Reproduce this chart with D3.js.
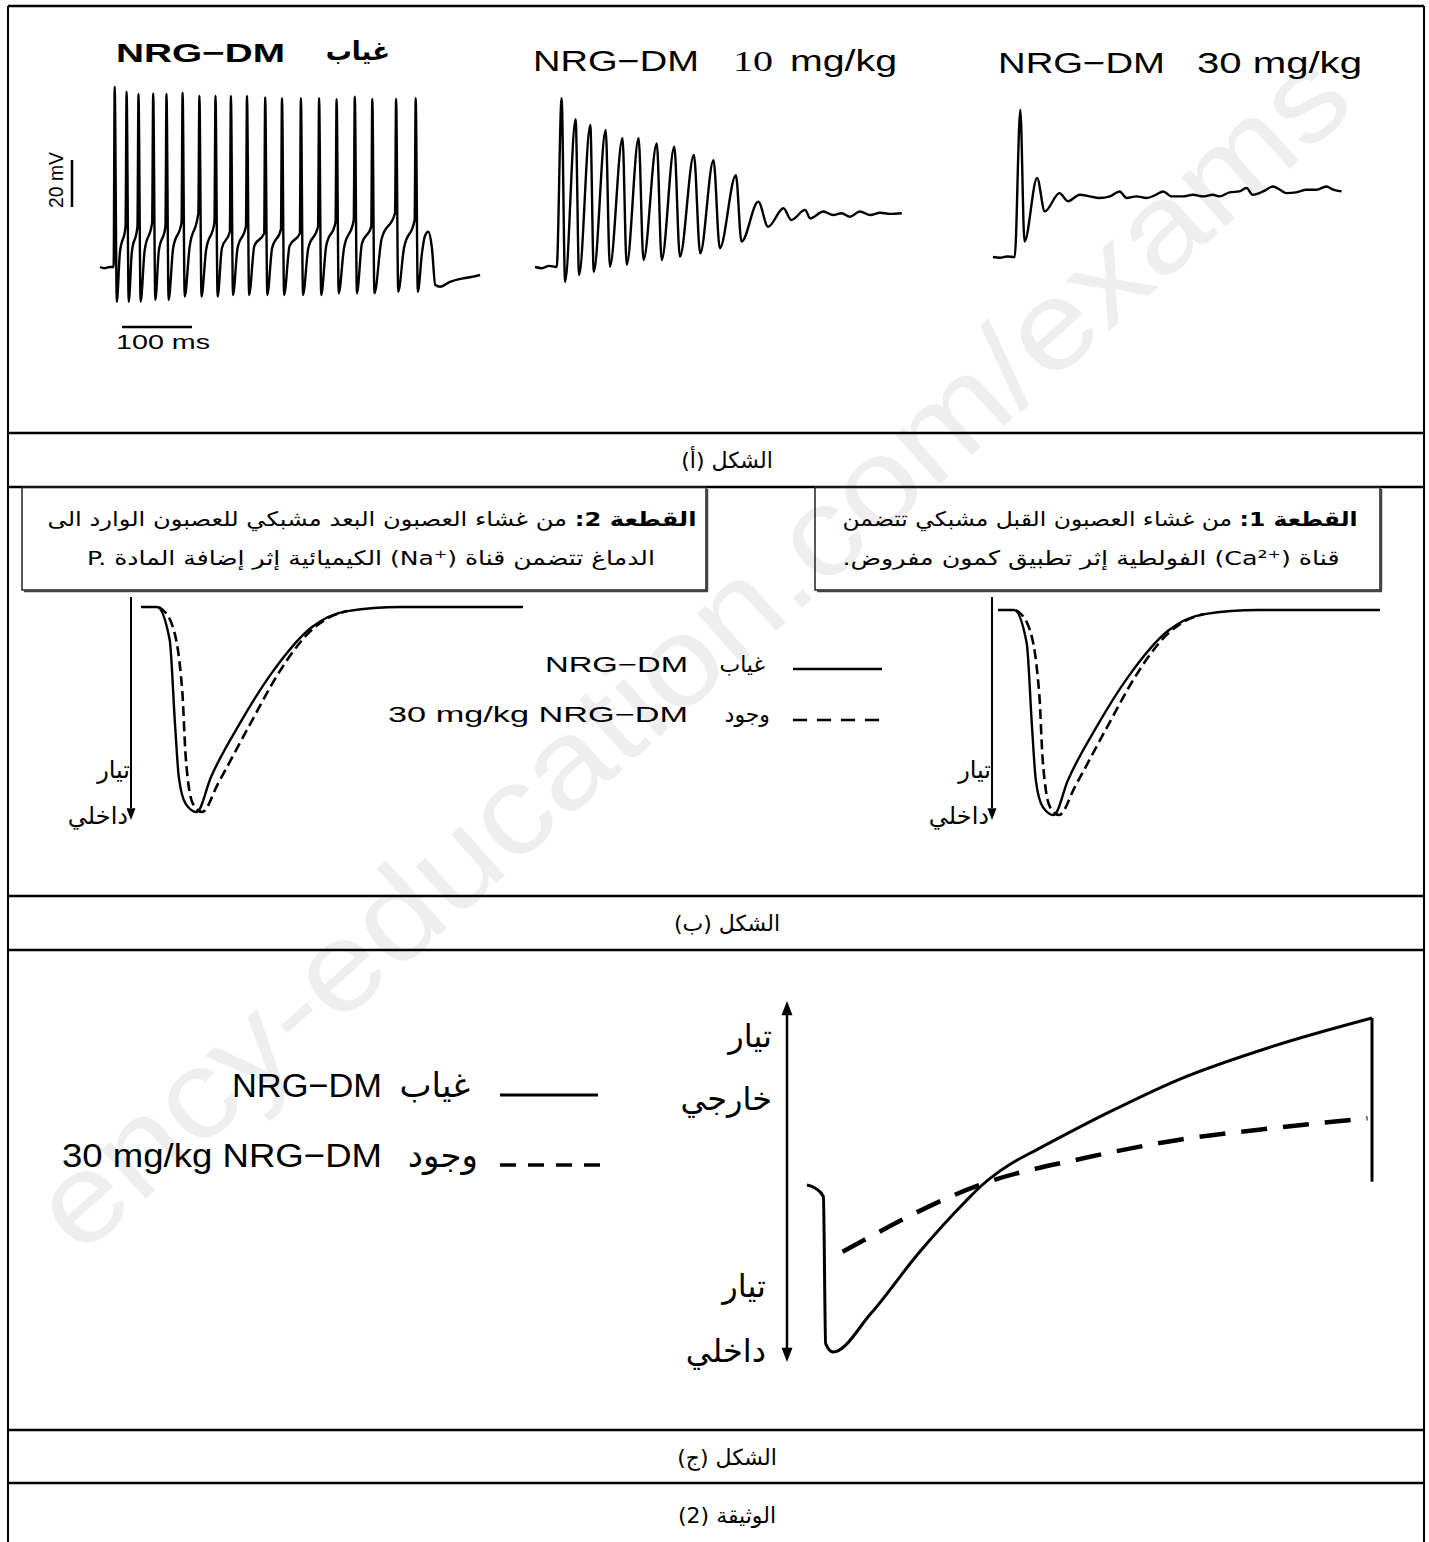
<!DOCTYPE html>
<html>
<head>
<meta charset="utf-8">
<script src="https://cdn.jsdelivr.net/npm/d3@7"></script>
<style>body{margin:0;background:#fff}</style>
</head>
<body>
<div id="chart"></div>
<script>
// ---------- data ----------
// figure A, trace 1 (no NRG-DM): time in ms, potential in mV
var ctrlStartT = [0, 6, 14];
var ctrlStartV = [-70, -70.5, -70];
var ctrlSpikeT = [21, 38, 55, 76, 95, 118, 142, 165, 187, 210, 236, 260, 287, 313, 338, 364, 389, 423, 451];
var ctrlPeak = [6.7, 4.6, 3.6, 3.9, 3.6, 4.2, 2.8, 2.8, 2.8, 2.8, 2.2, 1.8, 1.8, 1.8, 1.4, 2.5, 1.5, 1.5, 1.8];
var ctrlTrough = [-84.8, -84.8, -84.8, -84, -84, -82.6, -82.6, -82.6, -81.9, -81.9, -81.9, -81.9, -81.9, -81.9, -81.2, -81.2, -81.2, -80.5, -80.5];
var ctrlShoulder = [-70, -52.8, -52.8, -51, -52.8, -51, -47, -51, -55, -52.8, -55.7, -54, -55.7, -52.8, -51, -50, -52.8, -47, -50];
var ctrlKnee = [-64, -64, -63, -63, -62, -62, -63, -62, -62, -61, -62, -61, -62, -61, -62, -60, -58, -62];
var ctrlTailT = [460, 464, 469, 474, 479, 486, 500, 519, 533, 543];
var ctrlTailV = [-64, -57, -55, -61.4, -77.7, -78.4, -76.3, -74.8, -74.1, -73.4];

// figure A, trace 2 (10 mg/kg)
var lowStartT = [0, 10, 20, 31];
var lowStartV = [-70, -70.5, -69.5, -70];
var lowPeakT = [38, 58, 79, 101, 125, 148, 174, 199, 227, 255, 287, 319, 355, 386];
var lowPeakV = [1.8, -7.1, -9.6, -11.7, -15.2, -15.2, -17.4, -18.8, -22.3, -24.5, -30.9, -42.2, -45, -45.7];
var lowTroughT = [43, 63, 84, 107, 131, 155, 181, 207, 236, 264, 295, 333, 366, 393];
var lowTroughV = [-76.3, -73.4, -72, -69.9, -69.1, -67, -67, -65.6, -64.2, -62, -59.2, -52.9, -50, -49.3];
var lowTailT = [412, 426, 438, 450, 464, 479, 493, 507, 524];
var lowTailV = [-46.4, -47.9, -47.1, -48.6, -46.4, -47.9, -46.9, -47.4, -47.1];

// figure A, trace 3 (30 mg/kg)
var highT = [0, 10, 20, 31, 39, 45, 63, 74, 95, 107, 124, 138, 152, 167, 181, 191, 205, 219, 233, 243,
             255, 271, 286, 300, 314, 324, 338, 352, 362, 371, 386, 400, 410, 419, 433, 448, 462, 476, 486, 498];
var highV = [-70, -70.3, -69.8, -70, -7.3, -63.4, -36.4, -50.6, -42.8, -46.3, -43.5, -44.2, -44.9, -44.2, -42.1, -44.9, -44.2, -44.9, -43.5, -42.1,
             -44.2, -44.2, -43.5, -44.2, -43.5, -44.2, -42.5, -42.1, -40.6, -43.5, -42.1, -40, -41.4, -42.8, -42.5, -41.4, -41.4, -40, -41.3, -42.1];

// figure B: inward current (normalised, negative = inward)
var bSolidT = [0, 4.2, 7.5, 8.9, 9.9, 11.7, 14.6, 18.3, 25.8, 34.3, 44.6, 54, 68, 100];
var bSolidI = [0, 0, -0.16, -0.57, -0.83, -0.96, -1.0, -0.83, -0.57, -0.32, -0.10, -0.02, 0, 0];
var bDashT = [4.7, 8, 10.8, 11.7, 13.6, 16, 20.2, 28.6, 36.1, 43.7, 49.3, 54];
var bDashI = [0, -0.08, -0.41, -0.73, -0.96, -1.0, -0.86, -0.57, -0.32, -0.13, -0.05, -0.02];

// figure C: current (normalised, positive = outward)
var cSolidT = [0, 1.5, 2.9, 3.3, 4.6, 11.3, 19.7, 28, 31, 34, 37, 40.6, 53.1, 65.7, 82.4, 100];
var cSolidI = [0, -0.02, -0.07, -0.95, -1.0, -0.77, -0.41, -0.10, 0.0, 0.08, 0.145, 0.21, 0.43, 0.63, 0.83, 1.0];
var cSolidEndI = 0.02;
var cDashT = [6.3, 32.2, 48.9, 65.7, 82.4, 99.2];
var cDashI = [-0.40, 0.02, 0.16, 0.27, 0.34, 0.40];

// texts
var captions = ['الشكل (أ)', 'الشكل (ب)', 'الشكل (ج)', 'الوثيقة (2)'];
var absentLabel = 'غياب';
var presentLabel = 'وجود';
var drugName = 'NRG−DM';
var doseLabel = '30 mg/kg NRG−DM';

// ---------- drawing ----------
var width = 1429, height = 1542;
var LAT = "'Liberation Sans', Arial, sans-serif";
var AR = "'DejaVu Sans', sans-serif";

var svg = d3.select('#chart').append('svg')
      .attr('width', width)
      .attr('height', height);
svg.append('rect').attr('width', width).attr('height', height).attr('fill', '#fff');

//watermark
svg.append('text')
      .attr('transform', 'translate(690,650) rotate(-42)')
      .attr('text-anchor', 'middle')
      .attr('dominant-baseline', 'central')
      .attr('font-family', LAT)
      .attr('font-size', 125)
      .attr('fill', '#eeeeee')
      .attr('textLength', 1720)
      .attr('lengthAdjust', 'spacingAndGlyphs')
      .text('ency-education.com/exams');

function label(x, y, s, size, o) {
      o = o || {};
      var t = svg.append('text')
            .attr('x', x).attr('y', y)
            .attr('font-size', size)
            .attr('font-family', o.family || LAT)
            .attr('text-anchor', o.anchor || 'start')
            .attr('fill', '#000')
            .text(s);
      if (o.bold) t.attr('font-weight', 'bold');
      if (o.len) t.attr('textLength', o.len).attr('lengthAdjust', 'spacingAndGlyphs');
      if (o.rtl) t.attr('direction', 'rtl');
      return t;
}

function seg(x1, y1, x2, y2, w, dash) {
      var l = svg.append('line')
            .attr('x1', x1).attr('y1', y1).attr('x2', x2).attr('y2', y2)
            .attr('stroke', '#000').attr('stroke-width', w || 2);
      if (dash) l.attr('stroke-dasharray', dash);
      return l;
}

//table frame
[6, 433, 487, 896, 950, 1430, 1483].forEach(function (y) { seg(8, y, 1424, y, 2.5); });
seg(8, 6, 8, height, 2);
seg(1424, 6, 1424, height, 2);

//captions
[460, 923, 1457, 1515].forEach(function (y, i) {
      label(727, y + 8, captions[i], 22, { family: AR, anchor: 'middle', rtl: true });
});

// ----- figure A -----
function toPts(ts, vs) { return ts.map(function (t, i) { return [t, vs[i]]; }); }

var ctrlPts = toPts(ctrlStartT, ctrlStartV);
ctrlSpikeT.forEach(function (t, i) {
      ctrlPts.push([t - 1.5, ctrlShoulder[i]], [t, ctrlPeak[i]], [t + 3, ctrlTrough[i]]);
      if (i < ctrlSpikeT.length - 1) {
            var next = ctrlSpikeT[i + 1] - 1.5;
            ctrlPts.push([t + 3 + (next - t - 3) * 0.35, ctrlKnee[i]]);
      }
});
ctrlPts = ctrlPts.concat(toPts(ctrlTailT, ctrlTailV));

var lowPts = toPts(lowStartT, lowStartV);
lowPeakT.forEach(function (t, i) {
      lowPts.push([t, lowPeakV[i]], [lowTroughT[i], lowTroughV[i]]);
});
lowPts = lowPts.concat(toPts(lowTailT, lowTailV));

var highPts = toPts(highT, highV);

var traces = [
      { pts: ctrlPts, x0: 100, base: 267 },
      { pts: lowPts, x0: 535, base: 267 },
      { pts: highPts, x0: 993, base: 257 }
];
var traceScales = traces.map(function (tr) {
      var x = d3.scaleLinear().domain([0, 100]).range([tr.x0, tr.x0 + 70]);
      var y = d3.scaleLinear().domain([-70, -50]).range([tr.base, tr.base - 47]);
      svg.append('path')
            .attr('d', d3.line().x(function (d) { return x(d[0]); }).y(function (d) { return y(d[1]); })
                  .curve(d3.curveMonotoneX)(tr.pts))
            .attr('fill', 'none').attr('stroke', '#000').attr('stroke-width', 2.4)
            .attr('stroke-linejoin', 'round');
      return { x: x, y: y };
});

//scale bars
var s0 = traceScales[0];
var mv20 = s0.y(-70) - s0.y(-50);
seg(72, 160, 72, 160 + mv20, 2.5);
svg.append('text')
      .attr('transform', 'translate(63,180) rotate(-90)')
      .attr('text-anchor', 'middle')
      .attr('font-family', LAT).attr('font-size', 20)
      .attr('textLength', 56).attr('lengthAdjust', 'spacingAndGlyphs')
      .text('20 mV');
var ms100 = s0.x(100) - s0.x(0);
seg(122, 327, 122 + ms100, 327, 2.5);
label(116, 349, '100 ms', 20, { len: 94 });

//titles
label(116, 62, drugName, 26, { bold: true, len: 169 });
label(390, 60, absentLabel, 26, { bold: true, anchor: 'end', family: AR });
label(533, 71, drugName, 29, { len: 166 });
label(733, 71, '10', 30, { family: "'Liberation Serif', serif", len: 40 });
label(790, 71, 'mg/kg', 29, { len: 107 });
label(998, 73, drugName, 29, { len: 167 });
label(1197, 73, '30 mg/kg', 29, { len: 165 });

// ----- figure B -----
function arrowHead(x, y, dir, size) {
      var s = size || 9;
      svg.append('path')
            .attr('d', 'M' + x + ',' + y + 'L' + (x - s / 2) + ',' + (y - dir * s * 1.3) + 'L' + (x + s / 2) + ',' + (y - dir * s * 1.3) + 'Z')
            .attr('fill', '#000');
}

[{ x0: 141, y0: 607, ax: 131 }, { x0: 998, y0: 610, ax: 992 }].forEach(function (p) {
      var x = d3.scaleLinear().domain([0, 100]).range([p.x0, p.x0 + 382]);
      var y = d3.scaleLinear().domain([0, -1]).range([p.y0, p.y0 + 205]);
      var line = d3.line().x(function (d) { return x(d[0]); }).y(function (d) { return y(d[1]); }).curve(d3.curveMonotoneX);
      svg.append('path').attr('d', line(toPts(bDashT, bDashI)))
            .attr('fill', 'none').attr('stroke', '#000').attr('stroke-width', 2.6).attr('stroke-dasharray', '10,5');
      svg.append('path').attr('d', line(toPts(bSolidT, bSolidI)))
            .attr('fill', 'none').attr('stroke', '#000').attr('stroke-width', 2.4);
      seg(p.ax, 597, p.ax, 808, 2);
      arrowHead(p.ax, 820, 1, 9);
      label(p.ax - 1, 778, 'تيار', 24, { family: AR, anchor: 'end' });
      label(p.ax - 3, 824, 'داخلي', 24, { family: AR, anchor: 'end' });
});

//description boxes
[{ x: 22, w: 684, tag: 'القطعة 2:', l1: ' من غشاء العصبون البعد مشبكي للعصبون الوارد الى', l2: 'الدماغ تتضمن قناة (Na⁺\u200E) الكيميائية إثر إضافة المادة P.\u200E', c1: 372, c2: 371, w1: 649, w2: 568 },
 { x: 815, w: 565, tag: 'القطعة 1:', l1: ' من غشاء العصبون القبل مشبكي تتضمن', l2: 'قناة (Ca²⁺\u200E) الفولطية إثر تطبيق كمون مفروض.', c1: 1100, c2: 1091, w1: 515, w2: 497 }
].forEach(function (b) {
      svg.append('rect').attr('x', b.x).attr('y', 487).attr('width', b.w).attr('height', 103)
            .attr('fill', 'none').attr('stroke', '#222').attr('stroke-width', 1.5);
      seg(b.x + b.w + 1, 489, b.x + b.w + 1, 591, 2.5).attr('stroke', '#444');
      seg(b.x + 2, 591, b.x + b.w + 2, 591, 2.5).attr('stroke', '#444');
      var t1 = svg.append('text').attr('x', b.c1).attr('y', 526)
            .attr('direction', 'rtl').attr('text-anchor', 'middle')
            .attr('font-family', AR).attr('font-size', 20)
            .attr('textLength', b.w1).attr('lengthAdjust', 'spacingAndGlyphs');
      t1.append('tspan').attr('font-weight', 'bold').text(b.tag);
      t1.append('tspan').text(b.l1);
      svg.append('text').attr('x', b.c2).attr('y', 565)
            .attr('direction', 'rtl').attr('text-anchor', 'middle')
            .attr('font-family', AR).attr('font-size', 20)
            .attr('textLength', b.w2).attr('lengthAdjust', 'spacingAndGlyphs')
            .text(b.l2);
});

//legend B
seg(793, 669, 882, 669, 2.5);
seg(793, 720, 885, 720, 2.5, '14,10');
label(688, 672, drugName, 22, { anchor: 'end', len: 143 });
label(765, 672, absentLabel, 22, { anchor: 'end', family: AR });
label(688, 722, doseLabel, 22, { anchor: 'end', len: 300 });
label(770, 722, presentLabel, 22, { anchor: 'end', family: AR });

// ----- figure C -----
var cx = d3.scaleLinear().domain([0, 100]).range([807, 1372]);
var cy = d3.scaleLinear().domain([0, 1]).range([1185, 1018]);
var cLine = d3.line().x(function (d) { return cx(d[0]); }).y(function (d) { return cy(d[1]); }).curve(d3.curveMonotoneX);
svg.append('path').attr('d', cLine(toPts(cDashT, cDashI)))
      .attr('fill', 'none').attr('stroke', '#000').attr('stroke-width', 4.5).attr('stroke-dasharray', '26,16');
svg.append('path').attr('d', cLine(toPts(cSolidT, cSolidI)))
      .attr('fill', 'none').attr('stroke', '#000').attr('stroke-width', 3);
seg(cx(100), cy(1), cx(100), cy(cSolidEndI), 3);

seg(787, 1015, 787, 1348, 2.5);
arrowHead(787, 1001, -1, 11);
arrowHead(787, 1362, 1, 11);
label(772, 1047, 'تيار', 32, { family: AR, anchor: 'end' });
label(772, 1110, 'خارجي', 32, { family: AR, anchor: 'end' });
label(766, 1297, 'تيار', 32, { family: AR, anchor: 'end' });
label(766, 1362, 'داخلي', 32, { family: AR, anchor: 'end' });

//legend C
seg(500, 1095, 598, 1095, 3);
seg(500, 1165, 600, 1165, 3.5, '16,12');
label(382, 1097, drugName, 34, { anchor: 'end', len: 150 });
label(470, 1097, absentLabel, 34, { anchor: 'end', family: AR });
label(382, 1167, doseLabel, 34, { anchor: 'end', len: 320 });
label(478, 1167, presentLabel, 34, { anchor: 'end', family: AR });
</script>
</body>
</html>
